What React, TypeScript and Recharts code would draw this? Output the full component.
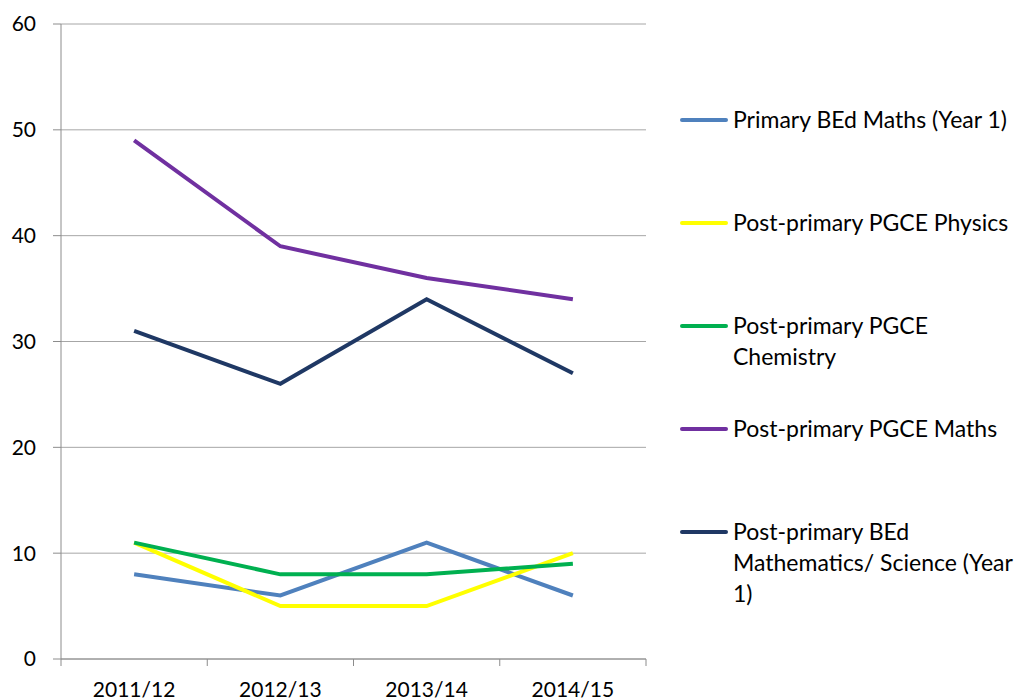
import { CartesianGrid, Legend, Line, LineChart, XAxis, YAxis } from "recharts";

const YEARS = ["2011/12", "2012/13", "2013/14", "2014/15"];
const PRIMARY_BED_MATHS = [8, 6, 11, 6];
const PGCE_PHYSICS = [11, 5, 5, 10];
const PGCE_CHEMISTRY = [11, 8, 8, 9];
const PGCE_MATHS = [49, 39, 36, 34];
const BED_MATHS_SCIENCE = [31, 26, 34, 27];
const Y_TICKS = [0, 10, 20, 30, 40, 50, 60];

// boundaries between the categories, in the index space [0, n-1] of the helper axis
const N = YEARS.length;
const FRAME_TICKS = Array.from({ length: N + 1 }, (_, i) => (i * (N - 1)) / N);

const SERIES = [
  { key: "primaryBed", name: "Primary BEd Maths (Year 1)", lines: ["Primary BEd Maths (Year 1)"], values: PRIMARY_BED_MATHS, color: "#4F81BD" },
  { key: "physics", name: "Post-primary PGCE Physics", lines: ["Post-primary PGCE Physics"], values: PGCE_PHYSICS, color: "#FFFF00" },
  { key: "chemistry", name: "Post-primary PGCE Chemistry", lines: ["Post-primary PGCE", "Chemistry"], values: PGCE_CHEMISTRY, color: "#00B050" },
  { key: "maths", name: "Post-primary PGCE Maths", lines: ["Post-primary PGCE Maths"], values: PGCE_MATHS, color: "#7030A0" },
  { key: "bedMathsSci", name: "Post-primary BEd Mathematics/ Science (Year 1)", lines: ["Post-primary BEd", "Mathematics/ Science (Year", "1)"], values: BED_MATHS_SCIENCE, color: "#1F3864" },
];

const FONT = "Lato, 'Noto Sans', sans-serif";
const AXIS = "#8C8C8C";

function LegendBox() {
  return (
    <div style={{ position: "relative", width: 335, height: 700, fontFamily: FONT, fontSize: 23, color: "#000" }}>
      {SERIES.map((s, i) => (
        <div key={s.key} style={{ position: "absolute", left: 0, top: 104 + i * 103, display: "flex", alignItems: "flex-start" }}>
          <span style={{ display: "inline-block", width: 48, height: 4, background: s.color, borderRadius: 2, marginTop: 14, marginRight: 5 }} />
          <span style={{ lineHeight: "31px", whiteSpace: "nowrap" }}>
            {s.lines.map((l, j) => (
              <div key={j}>{l}</div>
            ))}
          </span>
        </div>
      ))}
    </div>
  );
}

export default function App() {
  const data = YEARS.map((year, i) => {
    const row: Record<string, string | number> = { year };
    for (const s of SERIES) row[s.key] = s.values[i];
    return row;
  });

  return (
    <div style={{ position: "absolute", left: 0, top: 0, width: 1015, height: 700, background: "#fff" }}>
      <LineChart width={1015} height={700} data={data} margin={{ top: 24, right: 369, bottom: 0, left: 0 }}>
        <CartesianGrid horizontal vertical={false} stroke="#A6A6A6" />
        <XAxis
          xAxisId="aFrame"
          type="number"
          domain={[0, N - 1]}
          ticks={FRAME_TICKS}
          allowDataOverflow
          tick={() => <g />}
          tickSize={7}
          height={1}
          stroke={AXIS}
        />
        <XAxis
          xAxisId="cat"
          dataKey="year"
          scale="band"
          axisLine={false}
          tickLine={false}
          height={40}
          tickMargin={16}
          tick={{ fontFamily: FONT, fontSize: 21, fill: "#000" }}
        />
        <YAxis
          domain={[0, 60]}
          ticks={Y_TICKS}
          width={61}
          tickSize={8}
          tickMargin={17}
          stroke={AXIS}
          tick={{ fontFamily: FONT, fontSize: 21, fill: "#000" }}
        />
        <Legend
          layout="horizontal"
          align="center"
          verticalAlign="middle"
          wrapperStyle={{ left: 680, top: 0, width: 335, height: 700 }}
          content={() => <LegendBox />}
        />
        {SERIES.map((s) => (
          <Line
            key={s.key}
            xAxisId="cat"
            type="linear"
            dataKey={s.key}
            name={s.name}
            stroke={s.color}
            strokeWidth={4}
            dot={false}
            activeDot={false}
            isAnimationActive={false}
          />
        ))}
      </LineChart>
    </div>
  );
}
